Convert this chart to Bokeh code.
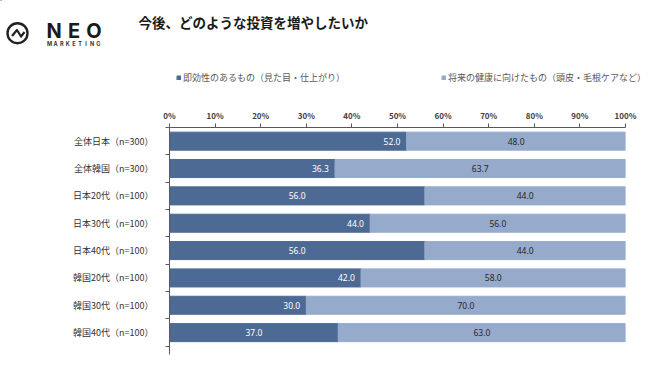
from bokeh.plotting import figure
from bokeh.models import (Range1d, FixedTicker, PrintfTickFormatter, ColumnDataSource,
                          Legend, LegendItem, LinearAxis)
from bokeh.layouts import column
from bokeh.core.properties import value
from bokeh.embed import file_html
from bokeh.resources import INLINE

# ---------------- data ----------------
categories = ["全体日本（n=300）", "全体韓国（n=300）", "日本20代（n=100）", "日本30代（n=100）",
              "日本40代（n=100）", "韓国20代（n=100）", "韓国30代（n=100）", "韓国40代（n=100）"]
immediate = [52.0, 36.3, 56.0, 44.0, 56.0, 42.0, 30.0, 37.0]
future = [48.0, 63.7, 44.0, 56.0, 44.0, 58.0, 70.0, 63.0]
series_names = ["即効性のあるもの（見た目・仕上がり）", "将来の健康に向けたもの（頭皮・毛根ケアなど）"]
x_ticks = [0, 10, 20, 30, 40, 50, 60, 70, 80, 90, 100]
title_text = "今後、どのような投資を増やしたいか"
dark_label_pos = ["end", "end", "center", "end", "center", "end", "end", "center"]

DARK = "#4d6a94"
LIGHT = "#96abcb"
JP = "Noto Sans CJK JP"

W = 672
HEAD_H = 90
MAIN_H = 290

# ---------------- header (logo + title + legend) ----------------
h = figure(width=W, height=HEAD_H, x_range=Range1d(0, W), y_range=Range1d(HEAD_H, 0),
           output_backend="svg", toolbar_location=None, min_border=0, frame_align=False)
h.axis.visible = False
h.grid.visible = False
h.outline_line_color = None

h.scatter(x=[17], y=[32.7], size=20, marker="circle", fill_alpha=0,
          line_color="#222222", line_width=2.4)
h.line(x=[11.5, 16.5, 20.5, 24], y=[35.5, 29.5, 36, 31.5], line_color="#222222",
       line_width=2.2, line_join="round")
neo = list("NEO")
h.text(x=[53.5 + 20 * i for i in range(len(neo))], y=[30] * len(neo), text=neo,
       text_font=value("Inter"), text_font_style="bold", text_font_size="20px",
       text_align="center", text_baseline="middle", text_color="#1a1a1a")
mk = list("MARKETING")
h.text(x=[49 + 6.1 * i for i in range(len(mk))], y=[43.5] * len(mk), text=mk,
       text_font=value("Inter"), text_font_style="bold", text_font_size="5.5px",
       text_align="center", text_baseline="middle", text_color="#333333")
h.text(x=[138], y=[21.5], text=[title_text], text_font=value(JP), text_font_size="13.5px",
       text_font_style="bold", text_align="left", text_baseline="middle", text_color="#1a1a1a")

# legend proxies (placed outside the visible range) so the legend lives in the header
e1 = h.hbar(y=[-1000], left=[0], right=[1], height=1, color=DARK)
e2 = h.hbar(y=[-1000], left=[0], right=[1], height=1, color=LIGHT)
for rend, name, lx in [(e1, series_names[0], 176), (e2, series_names[1], 441)]:
    lg = Legend(items=[LegendItem(label=name, renderers=[rend])], location=(lx, 6),
                orientation="horizontal", border_line_alpha=0, background_fill_alpha=0,
                padding=0, margin=0, glyph_width=5, glyph_height=5, label_standoff=2,
                label_height=10, label_text_font=JP, label_text_font_size="9px",
                label_text_color="#595959")
    h.add_layout(lg, "center")

# ---------------- main chart ----------------
ys = list(range(len(categories)))
left2 = immediate
right2 = [a + b for a, b in zip(immediate, future)]
src = ColumnDataSource(dict(y=ys, v1=immediate, l2=left2, r2=right2, zero=[0] * len(ys)))

p = figure(width=W, height=MAIN_H, x_range=Range1d(0, 100), y_range=Range1d(7.8, -0.5),
           output_backend="svg", toolbar_location=None, x_axis_location=None,
           y_axis_location=None, min_border_left=169, min_border_right=47,
           min_border_top=37, min_border_bottom=26, frame_align=False)
p.grid.visible = False
p.outline_line_color = None

r1 = p.hbar(y="y", left="zero", right="v1", height=0.66, color=DARK, source=src)
r2 = p.hbar(y="y", left="l2", right="r2", height=0.66, color=LIGHT, source=src)

# value labels
lx1 = [v - 3.2 if m == "end" else v / 2 for v, m in zip(immediate, dark_label_pos)]
p.text(x=lx1, y=ys, text=[f"{v:.1f}" for v in immediate], text_color="white",
       text_font=value("Noto Sans"), text_font_size="8.5px", text_align="center",
       text_baseline="middle")
lx2 = [(a + b) / 2 for a, b in zip(left2, right2)]
p.text(x=lx2, y=ys, text=[f"{v:.1f}" for v in future], text_color="#262626",
       text_font=value("Noto Sans"), text_font_size="8.5px", text_align="center",
       text_baseline="middle")

# top axis
xa = LinearAxis(ticker=FixedTicker(ticks=x_ticks), formatter=PrintfTickFormatter(format="%d%%"))
xa.major_tick_out = 4
xa.major_tick_in = 0
xa.minor_tick_out = 0
xa.minor_tick_in = 0
xa.major_label_standoff = 3
xa.major_label_text_font = JP
xa.major_label_text_font_size = "8px"
xa.major_label_text_font_style = "bold"
xa.major_label_text_color = "#404040"
xa.axis_line_color = "#595959"
xa.major_tick_line_color = "#595959"
p.add_layout(xa, "above")

# left axis
ya = LinearAxis(ticker=FixedTicker(ticks=ys, minor_ticks=[i - 0.5 for i in range(len(ys) + 1)]))
ya.major_label_overrides = {i: c for i, c in enumerate(categories)}
ya.major_tick_out = 0
ya.major_tick_in = 0
ya.minor_tick_out = 4
ya.minor_tick_in = 0
ya.major_label_standoff = 12
ya.major_label_text_font = JP
ya.major_label_text_font_size = "9px"
ya.major_label_text_color = "#333333"
ya.axis_line_color = "#595959"
ya.minor_tick_line_color = "#595959"
p.add_layout(ya, "left")

layout = column(h, p, spacing=0)
open("out.html", "w").write(file_html(layout, INLINE))
